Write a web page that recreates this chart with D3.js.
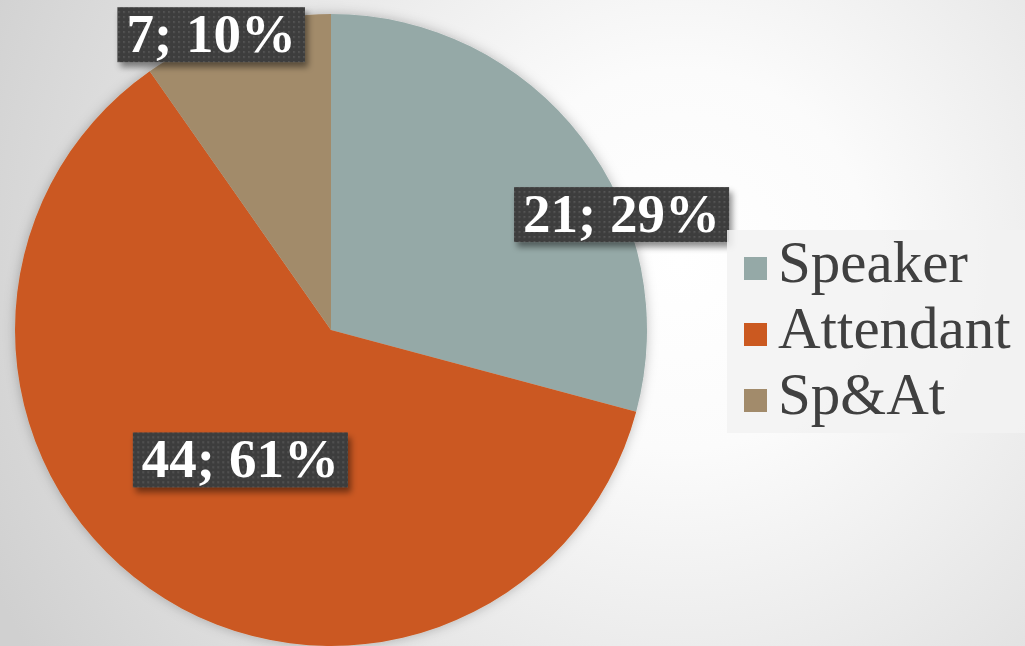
<!DOCTYPE html>
<html>
<head>
<meta charset="utf-8">
<script src="https://cdn.jsdelivr.net/npm/d3@7"></script>
<style>
  html, body { margin: 0; padding: 0; overflow: hidden; }
</style>
</head>
<body>
<div id="chart"></div>
<script>
const WIDTH = 1025;
const HEIGHT = 646;

// datos
const categorias = ["Speaker", "Attendant", "Sp&At"];
const valores = [21, 44, 7];
const colores = ["#95a9a7", "#cb5920", "#a28b6b"];

// ubicacion de las etiquetas: angulo relativo del sector (0..1) y fraccion del radio
const ubicacionEtiquetas = [
  { t: 0.65, r: 0.99 },
  { t: 0.5, r: 0.5 },
  { t: 0.37, r: 1.01 }
];

const CX = 331, CY = 330, RADIO = 316;

const SVG = d3.select("#chart").append("svg")
  .attr("width", WIDTH)
  .attr("height", HEIGHT);

const defs = SVG.append("defs");

// fondo con degradado radial
const grad = defs.append("radialGradient")
  .attr("id", "fondo")
  .attr("gradientUnits", "userSpaceOnUse")
  .attr("cx", 680).attr("cy", 260).attr("r", 760);
grad.append("stop").attr("offset", "0%").attr("stop-color", "#ffffff");
grad.append("stop").attr("offset", "25%").attr("stop-color", "#fbfbfb");
grad.append("stop").attr("offset", "100%").attr("stop-color", "#d0d0d0");

// puntitos de las cajas
const patron = defs.append("pattern")
  .attr("id", "puntos")
  .attr("patternUnits", "userSpaceOnUse")
  .attr("width", 5).attr("height", 5);
patron.append("rect").attr("width", 5).attr("height", 5).attr("fill", "#3e3e3e");
patron.append("rect").attr("x", 2).attr("y", 2).attr("width", 1.6).attr("height", 1.6).attr("fill", "#5c5c5c");

const sombra = defs.append("filter").attr("id", "sombra")
  .attr("x", "-20%").attr("y", "-20%").attr("width", "150%").attr("height", "160%");
sombra.append("feDropShadow")
  .attr("dx", 3).attr("dy", 5).attr("stdDeviation", 3)
  .attr("flood-color", "#000").attr("flood-opacity", 0.45);

const sombraPie = defs.append("filter").attr("id", "sombraPie")
  .attr("x", "-10%").attr("y", "-10%").attr("width", "120%").attr("height", "120%");
sombraPie.append("feDropShadow")
  .attr("dx", 0).attr("dy", 0).attr("stdDeviation", 6)
  .attr("flood-color", "#000").attr("flood-opacity", 0.25);

SVG.append("rect")
  .attr("width", WIDTH).attr("height", HEIGHT)
  .attr("fill", "url(#fondo)");

const datos = categorias.map((c, i) => ({ categoria: c, valor: valores[i], color: colores[i] }));
const total = d3.sum(valores);

const pie = d3.pie().sort(null).value(d => d.valor);
const arcos = pie(datos);
const arco = d3.arc().innerRadius(0).outerRadius(RADIO);

const G = SVG.append("g").attr("transform", `translate(${CX}, ${CY})`);

G.append("g")
  .attr("filter", "url(#sombraPie)")
  .selectAll("path")
  .data(arcos)
  .join("path")
  .attr("d", arco)
  .attr("fill", d => d.data.color);

// etiquetas
const etiquetas = G.selectAll(".etiqueta")
  .data(arcos)
  .join("g")
  .attr("class", "etiqueta")
  .attr("transform", (d, i) => {
    const u = ubicacionEtiquetas[i];
    const ang = d.startAngle + (d.endAngle - d.startAngle) * u.t;
    const [x, y] = d3.pointRadial(ang, RADIO * u.r);
    return `translate(${x}, ${y})`;
  });

etiquetas.each(function(d) {
  const g = d3.select(this);
  const pct = Math.round(d.data.valor / total * 100);
  const caja = g.append("rect").attr("fill", "url(#puntos)").attr("filter", "url(#sombra)");
  const txt = g.append("text")
    .attr("text-anchor", "middle")
    .attr("y", 18)
    .style("font-family", "'Liberation Serif', 'DejaVu Serif', serif")
    .style("font-weight", "bold")
    .style("font-size", "55px")
    .attr("fill", "#ffffff")
    .text(`${d.data.valor}; ${pct}%`);
  const w = txt.node().getComputedTextLength();
  caja.attr("x", -w / 2 - 9).attr("y", -27)
    .attr("width", w + 18).attr("height", 55);
});

// leyenda
const leyenda = SVG.append("g").attr("transform", "translate(727, 230)");
leyenda.append("rect")
  .attr("width", 298).attr("height", 203)
  .attr("fill", "#f2f2f2").attr("opacity", 0.85);

const items = leyenda.selectAll(".item")
  .data(datos)
  .join("g")
  .attr("class", "item")
  .attr("transform", (d, i) => `translate(17, ${27 + i * 66})`);

items.append("rect")
  .attr("width", 23).attr("height", 23)
  .attr("fill", d => d.color);

items.append("text")
  .attr("x", 34)
  .attr("y", 25)
  .style("font-family", "'Liberation Serif', 'DejaVu Serif', serif")
  .style("font-size", "59px")
  .attr("fill", "#404040")
  .text(d => d.categoria);
</script>
</body>
</html>
